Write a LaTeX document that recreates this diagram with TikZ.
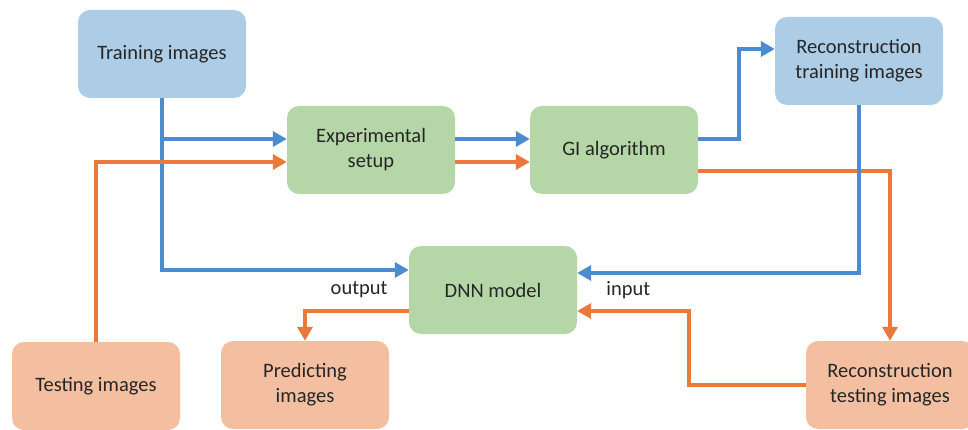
\documentclass[tikz,border=0pt]{standalone}
\usepackage{fontspec}
\setmainfont{Carlito}
\usetikzlibrary{arrows.meta,positioning}

\definecolor{boxblue}{HTML}{ADCDE6}
\definecolor{boxgreen}{HTML}{B5D7A8}
\definecolor{boxorange}{HTML}{F4BFA1}
\definecolor{lineblue}{HTML}{4A8CCD}
\definecolor{lineorange}{HTML}{EA7A3C}

\tikzset{
  box/.style={rounded corners=12pt, minimum width=168pt, minimum height=88pt,
    align=center, text=black!85, font=\fontsize{20.5}{25}\selectfont},
  bluebox/.style={box, fill=boxblue},
  greenbox/.style={box, fill=boxgreen},
  orangebox/.style={box, fill=boxorange},
  flow/.style={line width=4.5pt, -{Triangle[length=14pt,width=15pt]}},
  blueflow/.style={flow, draw=lineblue},
  orangeflow/.style={flow, draw=lineorange},
  lbl/.style={inner sep=0pt, text=black!85, font=\fontsize{20.5}{25}\selectfont}
}

\begin{document}
\begin{tikzpicture}[x=1pt,y=-1pt]
  \useasboundingbox (0,0) rectangle (968,430);

  % boxes
  \node[bluebox] (train) at (162,54) {Training images};
  \node[greenbox] (setup) at (371,150) {Experimental\\setup};
  \node[greenbox] (gi) at (614,150) {GI algorithm};
  \node[bluebox] (rtrain) at (859,61) {Reconstruction\\training images};
  \node[greenbox] (dnn) at (493,290) {DNN model};
  \node[orangebox] (test) at (96,386) {Testing images};
  \node[orangebox] (pred) at (305,385) {Predicting\\images};
  \node[orangebox] (rtest) at (890,385) {Reconstruction\\testing images};

  \node[lbl, left=21pt of dnn.west] (out) {output};
  \node[lbl, right=29pt of dnn.east] (in) {input};

  % ports
  \coordinate (setupb) at ([yshift=11pt]setup.west);
  \coordinate (setupo) at ([yshift=-12pt]setup.west);
  \coordinate (gib) at ([yshift=11pt]gi.west);
  \coordinate (gio) at ([yshift=-12pt]gi.west);
  \coordinate (dnnb) at ([yshift=20pt]dnn.west);
  \coordinate (dnnin) at ([yshift=17pt]dnn.east);
  \coordinate (dnnio) at ([yshift=-21pt]dnn.east);
  \coordinate (dnnout) at ([yshift=-21pt]dnn.west);
  \coordinate (rtrainin) at ([yshift=12pt]rtrain.west);
  \coordinate (upbend) at (739,0);
  \coordinate (backbend) at (689,0);

  % training path
  \draw[blueflow] (train.south) |- (dnnb);
  \draw[blueflow] (train.south |- setupb) -- (setupb);
  \draw[blueflow] ([yshift=11pt]setup.east) -- (gib);
  \draw[blueflow] ([yshift=11pt]gi.east) -| (upbend |- rtrainin) -- (rtrainin);

  % testing path
  \draw[orangeflow] (test.north) |- (setupo);
  \draw[orangeflow] ([yshift=-12pt]setup.east) -- (gio);
  \draw[orangeflow] ([yshift=-21pt]gi.east) -| (rtest.north);
  \draw[blueflow] (rtrain.south) |- (dnnin);
  \draw[orangeflow] (rtest.west) -| (backbend |- dnnio) -- (dnnio);
  \draw[orangeflow] (dnnout) -| (pred.north);
\end{tikzpicture}
\end{document}
